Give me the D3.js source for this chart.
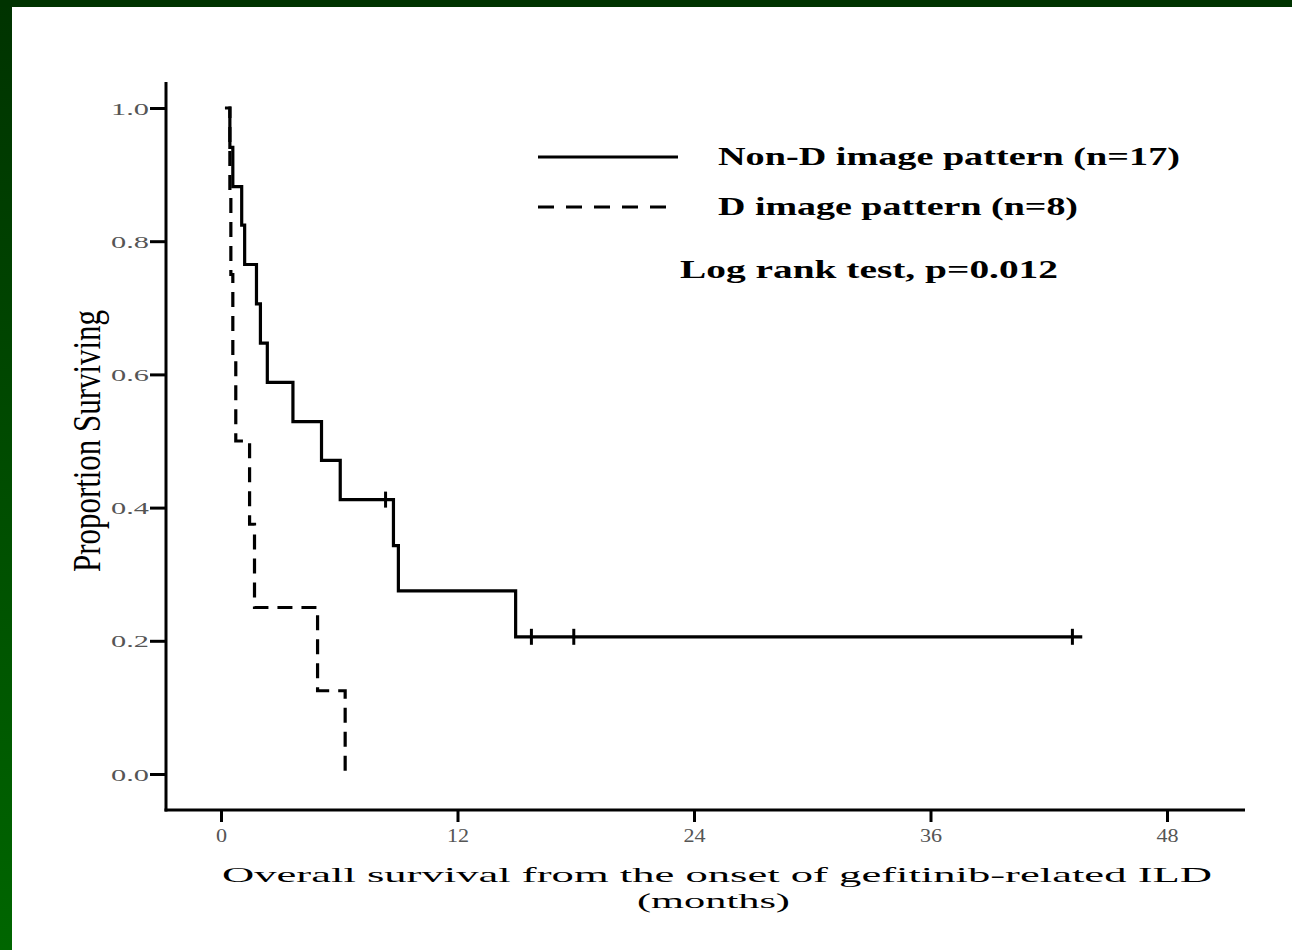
<!DOCTYPE html>
<html>
<head>
<meta charset="utf-8">
<script src="https://cdn.jsdelivr.net/npm/d3@7"></script>
<style>
  html, body { margin: 0; padding: 0; background: #fff; }
  svg { display: block; }
  text { font-family: "Liberation Serif", "Times New Roman", serif; }
</style>
</head>
<body>
<svg id="chart" width="1292" height="950"></svg>
<script>
// ---- data ----
const curveStart = 0.2;
const nonDTimes    = [0.45, 0.6, 1.05, 1.2, 1.8, 2.0, 2.35, 3.65, 5.1, 6.05, 8.75, 9.0, 14.95];
const nonDSurvival = [0.941, 0.882, 0.824, 0.765, 0.706, 0.647, 0.588, 0.529, 0.471, 0.412, 0.343, 0.275, 0.206];
const nonDCensored = [8.35, 15.75, 17.9, 43.2];
const nonDCurveEnd = 43.7;

const dTimes    = [0.45, 0.5, 0.6, 0.75, 1.45, 1.7, 4.9, 6.3];
const dSurvival = [0.875, 0.75, 0.625, 0.5, 0.375, 0.25, 0.125, 0.0];
const dCensored = [];

const xTickValues = [0, 12, 24, 36, 48];
const yTickValues = [0.0, 0.2, 0.4, 0.6, 0.8, 1.0];

const legendLabels = ["Non-D image pattern (n=17)", "D image pattern (n=8)"];
const testLabel = "Log rank test, p=0.012";
const xTitle = ["Overall survival from the onset of gefitinib-related ILD", "(months)"];
const yTitle = "Proportion Surviving";

// ---- layout ----
const svg = d3.select("#chart");
const W = 1292, H = 950;

// frame
const defs = svg.append("defs");
const grad = defs.append("linearGradient").attr("id", "gframe")
  .attr("x1", 0).attr("y1", 0).attr("x2", 0).attr("y2", 1);
grad.append("stop").attr("offset", "0%").attr("stop-color", "#003300");
grad.append("stop").attr("offset", "100%").attr("stop-color", "#006600");
svg.append("rect").attr("x", 0).attr("y", 0).attr("width", W).attr("height", H).attr("fill", "#fff");
svg.append("rect").attr("x", 0).attr("y", 0).attr("width", 12).attr("height", H).attr("fill", "url(#gframe)");
svg.append("rect").attr("x", 0).attr("y", 0).attr("width", W).attr("height", 7).attr("fill", "#003300");

const x = d3.scaleLinear().domain([0, 48]).range([221, 1167]);
const y = d3.scaleLinear().domain([0, 1]).range([774, 108]);

const axisX0 = 166, axisX1 = 1245, axisYTop = 82, axisYBottom = 810;

// axes lines
svg.append("line").attr("x1", axisX0).attr("x2", axisX0).attr("y1", axisYTop).attr("y2", axisYBottom + 1.5)
  .attr("stroke", "#000").attr("stroke-width", 3);
svg.append("line").attr("x1", axisX0 - 1.5).attr("x2", axisX1).attr("y1", axisYBottom).attr("y2", axisYBottom)
  .attr("stroke", "#000").attr("stroke-width", 3);

// y axis
const yAxis = svg.append("g").attr("transform", `translate(${axisX0},0)`)
  .call(d3.axisLeft(y).tickValues(yTickValues).tickSize(16).tickSizeOuter(0).tickFormat(d3.format(".1f")));
yAxis.select(".domain").remove();
yAxis.selectAll(".tick line").attr("stroke", "#000").attr("stroke-width", 3);
yAxis.selectAll(".tick text")
  .attr("x", null).attr("dy", null)
  .attr("transform", "translate(-17,6) scale(1.9,1.05)")
  .attr("font-size", 16).attr("fill", "#555")
  .attr("font-family", "'Liberation Serif', serif");

// x axis
const xAxis = svg.append("g").attr("transform", `translate(0,${axisYBottom})`)
  .call(d3.axisBottom(x).tickValues(xTickValues).tickSize(12).tickSizeOuter(0).tickFormat(d3.format("d")));
xAxis.select(".domain").remove();
xAxis.selectAll(".tick line").attr("stroke", "#000").attr("stroke-width", 3);
xAxis.selectAll(".tick text")
  .attr("y", null).attr("dy", null)
  .attr("transform", "translate(0,32) scale(1.3,1.05)")
  .attr("font-size", 17).attr("fill", "#555")
  .attr("font-family", "'Liberation Serif', serif");

// curves
function stepPoints(times, surv, end) {
  const pts = [[curveStart, 1]];
  times.forEach((t, i) => pts.push([t, surv[i]]));
  if (end != null) pts.push([end, surv[surv.length - 1]]);
  return pts;
}
function survAt(times, surv, t) {
  let s = 1;
  times.forEach((tt, i) => { if (tt <= t) s = surv[i]; });
  return s;
}
const line = d3.line().x(d => x(d[0])).y(d => y(d[1])).curve(d3.curveStepAfter);

svg.append("path").datum(stepPoints(nonDTimes, nonDSurvival, nonDCurveEnd))
  .attr("d", line).attr("fill", "none").attr("stroke", "#000").attr("stroke-width", 3.2)
  .attr("stroke-linejoin", "miter");
svg.append("rect").attr("x", x(curveStart) - 2).attr("y", y(1) - 2)
  .attr("width", x(nonDTimes[0]) - x(curveStart) + 0.5).attr("height", 4).attr("fill", "#fff");
svg.append("path").datum(stepPoints(dTimes, dSurvival, null))
  .attr("d", line).attr("fill", "none").attr("stroke", "#000").attr("stroke-width", 3.2)
  .attr("stroke-dasharray", "15,9");

// censor marks
svg.selectAll(".cens").data(nonDCensored.map(t => [t, survAt(nonDTimes, nonDSurvival, t)]))
  .enter().append("line").attr("class", "cens")
  .attr("x1", d => x(d[0])).attr("x2", d => x(d[0]))
  .attr("y1", d => y(d[1]) - 8).attr("y2", d => y(d[1]) + 8)
  .attr("stroke", "#000").attr("stroke-width", 3);
svg.selectAll(".censD").data(dCensored.map(t => [t, survAt(dTimes, dSurvival, t)]))
  .enter().append("line").attr("class", "censD")
  .attr("x1", d => x(d[0])).attr("x2", d => x(d[0]))
  .attr("y1", d => y(d[1]) - 8).attr("y2", d => y(d[1]) + 8)
  .attr("stroke", "#000").attr("stroke-width", 3);

// legend
const legY = [157, 207];
const legW = [462, 360];
legendLabels.forEach((lab, i) => {
  svg.append("line").attr("x1", 538).attr("x2", 678).attr("y1", legY[i]).attr("y2", legY[i])
    .attr("stroke", "#000").attr("stroke-width", 3)
    .attr("stroke-dasharray", i === 1 ? "16,12" : null);
  svg.append("text").attr("x", 718).attr("y", legY[i] + 8)
    .attr("font-size", 26).attr("font-weight", "bold").attr("fill", "#000")
    .attr("textLength", legW[i]).attr("lengthAdjust", "spacingAndGlyphs")
    .text(lab);
});
svg.append("text").attr("x", 680).attr("y", 278)
  .attr("font-size", 26).attr("font-weight", "bold").attr("fill", "#000")
  .attr("textLength", 378).attr("lengthAdjust", "spacingAndGlyphs")
  .text(testLabel);

// axis titles
svg.append("text").attr("x", 222).attr("y", 882)
  .attr("font-size", 22).attr("fill", "#000")
  .attr("textLength", 990).attr("lengthAdjust", "spacingAndGlyphs")
  .text(xTitle[0]);
svg.append("text").attr("x", 637).attr("y", 908)
  .attr("font-size", 22).attr("fill", "#000")
  .attr("textLength", 153).attr("lengthAdjust", "spacingAndGlyphs")
  .text(xTitle[1]);

svg.append("text")
  .attr("transform", "translate(100,441) scale(1.5,1) rotate(-90)")
  .attr("text-anchor", "middle")
  .attr("font-size", 26).attr("fill", "#000")
  .attr("textLength", 262).attr("lengthAdjust", "spacingAndGlyphs")
  .text(yTitle);
</script>
</body>
</html>
